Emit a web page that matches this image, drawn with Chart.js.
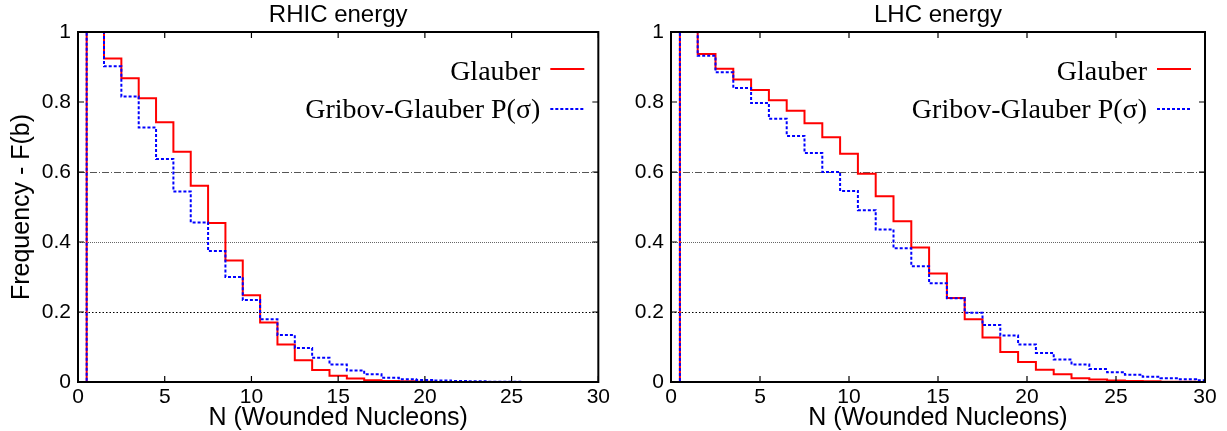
<!DOCTYPE html>
<html>
<head>
<meta charset="utf-8">
<title>Wounded nucleon distributions</title>
<script src="https://cdn.jsdelivr.net/npm/chart.js@4.4.1/dist/chart.umd.min.js"></script>
<style>
  html, body { margin: 0; padding: 0; background: #fff; }
  #wrap { position: relative; width: 1227px; height: 431px; }
  #rhic { position: absolute; left: 0; top: 0; }
  #lhc { position: absolute; left: 613px; top: 0; }
</style>
</head>
<body>
<div id="wrap">
  <canvas id="rhic" width="613" height="431"></canvas>
  <canvas id="lhc" width="614" height="431"></canvas>
</div>
<script>
// N (wounded nucleons), bin centres
const nWounded = [0, 1, 2, 3, 4, 5, 6, 7, 8, 9, 10, 11, 12, 13, 14, 15,
                  16, 17, 18, 19, 20, 21, 22, 23, 24, 25, 26, 27, 28, 29, 30];

// Frequency - F(b)
const rhicGlauber = [0, 1.0, 0.924, 0.868, 0.811, 0.742, 0.658, 0.561, 0.454, 0.347, 0.248,
                     0.170, 0.107, 0.062, 0.034, 0.018, 0.010, 0.005, 0.003, 0.002, 0.001,
                     0, 0, 0, 0, 0, 0, 0, 0, 0, 0];
const rhicGribov  = [0, 1.0, 0.902, 0.816, 0.727, 0.637, 0.544, 0.456, 0.374, 0.300, 0.234,
                     0.179, 0.134, 0.097, 0.069, 0.050, 0.033, 0.022, 0.012, 0.008, 0.006,
                     0.004, 0.003, 0.002, 0.001, 0.001, 0, 0, 0, 0, 0];
const lhcGlauber  = [0, 1.0, 0.937, 0.895, 0.864, 0.834, 0.805, 0.775, 0.739, 0.699, 0.652,
                     0.595, 0.531, 0.459, 0.384, 0.310, 0.240, 0.179, 0.127, 0.086, 0.057,
                     0.035, 0.022, 0.011, 0.007, 0.004, 0.003, 0.002, 0.001, 0.001, 0];
const lhcGribov   = [0, 1.0, 0.932, 0.885, 0.840, 0.797, 0.752, 0.703, 0.654, 0.600, 0.546,
                     0.491, 0.436, 0.382, 0.331, 0.282, 0.239, 0.198, 0.163, 0.133, 0.107,
                     0.083, 0.064, 0.050, 0.037, 0.028, 0.021, 0.015, 0.011, 0.008, 0.005];

const seriesLabels = ["Glauber", "Gribov-Glauber P(\u03c3)"];
const panelTitles = ["RHIC energy", "LHC energy"];
const xTitle = "N (Wounded Nucleons)";
const yTitle = "Frequency - F(b)";

const SANS = "'Liberation Sans', Arial, sans-serif";
const SERIF = "'Liberation Serif', 'Times New Roman', serif";
const RED = "#ff0000";
const BLUE = "#0000ff";
const BLUE_DASH = [3, 2];

// gnuplot-like frame: reference lines, inward ticks, box, title, legend
const gnuplotFrame = {
  id: "gnuplotFrame",
  beforeDatasetsDraw(chart) {
    const { ctx, chartArea: a, scales: { y } } = chart;
    const refs = [
      { v: 0.6, dash: [7, 2, 1, 2], color: "#555" },
      { v: 0.4, dash: [1, 1], color: "#666" },
      { v: 0.2, dash: [1.5, 2], color: "#000" },
    ];
    ctx.save();
    ctx.lineWidth = 1;
    refs.forEach((r) => {
      const py = Math.round(y.getPixelForValue(r.v)) + 0.5;
      ctx.setLineDash(r.dash);
      ctx.strokeStyle = r.color;
      ctx.beginPath();
      ctx.moveTo(a.left, py);
      ctx.lineTo(a.right, py);
      ctx.stroke();
    });
    ctx.restore();
  },
  afterDatasetsDraw(chart) {
    const { ctx, chartArea: a, scales: { x, y } } = chart;
    const tick = 6;
    ctx.save();
    ctx.strokeStyle = "#000";
    ctx.lineWidth = 1.2;
    ctx.beginPath();
    x.ticks.forEach((t) => {
      const px = x.getPixelForValue(t.value);
      ctx.moveTo(px, a.bottom);
      ctx.lineTo(px, a.bottom - tick);
      ctx.moveTo(px, a.top);
      ctx.lineTo(px, a.top + tick);
    });
    y.ticks.forEach((t) => {
      const py = y.getPixelForValue(t.value);
      ctx.moveTo(a.left, py);
      ctx.lineTo(a.left + tick, py);
      ctx.moveTo(a.right, py);
      ctx.lineTo(a.right - tick, py);
    });
    ctx.stroke();
    ctx.lineWidth = 2;
    ctx.strokeRect(a.left, a.top, a.right - a.left, a.bottom - a.top);

    // panel title
    ctx.fillStyle = "#000";
    ctx.font = "24px " + SANS;
    ctx.textAlign = "center";
    ctx.textBaseline = "alphabetic";
    ctx.fillText(chart.options.plugins.gnuplotFrame.title, (a.left + a.right) / 2, 22);

    // legend, text right-aligned with sample to the right
    ctx.font = "28px " + SERIF;
    ctx.textAlign = "right";
    const textY = [80, 118];
    const lineY = [69, 109];
    chart.data.datasets.forEach((ds, i) => {
      ctx.fillText(ds.label, a.right - 58, textY[i]);
      ctx.strokeStyle = ds.borderColor;
      ctx.lineWidth = 2;
      ctx.setLineDash(ds.borderDash || []);
      ctx.beginPath();
      ctx.moveTo(a.right - 48, lineY[i]);
      ctx.lineTo(a.right - 14, lineY[i]);
      ctx.stroke();
    });
    ctx.restore();
  },
};

function makePanel(canvasId, title, glauber, gribov, yAxisWidth, rightPad, showYTitle) {
  const config = {
    type: "line",
    data: {
      datasets: [
        {
          label: seriesLabels[0],
          data: nWounded.map((n, i) => ({ x: n, y: glauber[i] })),
          borderColor: RED,
          borderWidth: 2,
          stepped: "middle",
          pointRadius: 0,
          fill: false,
          order: 1,
        },
        {
          label: seriesLabels[1],
          data: nWounded.map((n, i) => ({ x: n, y: gribov[i] })),
          borderColor: BLUE,
          borderWidth: 2,
          borderDash: BLUE_DASH,
          stepped: "middle",
          pointRadius: 0,
          fill: false,
          order: 0,
        },
      ],
    },
    options: {
      responsive: false,
      animation: false,
      layout: { padding: { top: 32, right: rightPad, left: 0, bottom: 0 } },
      plugins: {
        legend: { display: false },
        title: { display: false },
        tooltip: { enabled: false },
        gnuplotFrame: { title: title },
      },
      scales: {
        x: {
          type: "linear",
          min: 0,
          max: 30,
          grid: { display: false, drawTicks: false },
          border: { display: false },
          ticks: { stepSize: 5, color: "#000", font: { family: SANS, size: 21 }, padding: 3, maxRotation: 0 },
          title: {
            display: true,
            text: xTitle,
            color: "#000",
            font: { family: SANS, size: 25, lineHeight: 1 },
            padding: 0,
          },
          afterFit: (s) => { s.height = 49; },
        },
        y: {
          min: 0,
          max: 1,
          grid: { display: false, drawTicks: false },
          border: { display: false },
          ticks: {
            stepSize: 0.2,
            color: "#000",
            font: { family: SANS, size: 21 },
            padding: 7,
            callback: (v) => String(Number(v.toFixed(1))),
          },
          title: {
            display: showYTitle,
            text: yTitle,
            color: "#000",
            font: { family: SANS, size: 25, lineHeight: 1 },
            padding: { top: 9.5, bottom: 0 },
          },
          afterFit: (s) => { s.width = yAxisWidth; },
        },
      },
    },
    plugins: [gnuplotFrame],
  };
  return new Chart(document.getElementById(canvasId), config);
}

makePanel("rhic", panelTitles[0], rhicGlauber, rhicGribov, 78, 13, true);
makePanel("lhc", panelTitles[1], lhcGlauber, lhcGribov, 58, 22, false);
</script>
</body>
</html>
